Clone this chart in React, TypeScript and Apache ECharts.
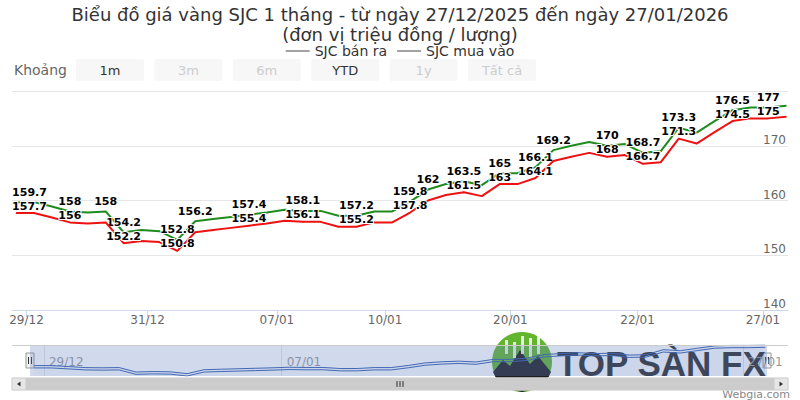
import React, { useEffect, useRef } from "react";
import * as echarts from "echarts";

const titleLine1 = "Biểu đồ giá vàng SJC 1 tháng - từ ngày 27/12/2025 đến ngày 27/01/2026";
const titleLine2 = "(đơn vị triệu đồng / lượng)";
const seriesNames = ["SJC bán ra", "SJC mua vào"];

// SJC bán ra (sell) and SJC mua vào (buy), one value per ordinal point
const sellValues = [
  159.7, 159.7, 158.9, 158, 157.8, 158, 154.2, 154.6, 154.4, 152.8,
  156.2, 156.6, 157.0, 157.4, 157.8, 158.3, 158.1, 158.1, 157.2, 157.2,
  158.0, 158.0, 159.8, 162, 163.0, 163.5, 162.8, 165, 165, 166.1,
  169.2, 170.0, 170.7, 170, 170.3, 168.7, 169.0, 173.3, 172.4, 174.5,
  176.5, 177, 177, 177.3,
];
const buyValues = [
  157.7, 157.7, 156.9, 156, 155.8, 156, 152.2, 152.6, 152.4, 150.8,
  154.2, 154.6, 155.0, 155.4, 155.8, 156.3, 156.1, 156.1, 155.2, 155.2,
  156.0, 156.0, 157.8, 160, 161.0, 161.5, 160.8, 163, 163, 164.1,
  167.2, 168.0, 168.7, 168, 168.3, 166.7, 167.0, 171.3, 170.4, 172.5,
  174.5, 175, 175, 175.3,
];
// points whose value label is visible
const sellLabelIdx = [0, 3, 5, 6, 9, 10, 13, 16, 19, 22, 23, 25, 27, 29, 30, 33, 35, 37, 40, 42];
const buyLabelIdx = [0, 3, 6, 9, 13, 16, 19, 22, 25, 27, 29, 33, 35, 37, 40, 42];

// x-axis ticks (ordinal position) and their labels
const tickIdx = [0.58, 7.34, 14.56, 20.6, 27.6, 34.7, 41.7];
const tickLabels = ["29/12", "31/12", "07/01", "10/01", "20/01", "22/01", "27/01"];
const navTickIdx = [0.58, 14.56, 41.7];
const navTickLabels = ["29/12", "07/01", "27/01"];

const yMin = 140;
const yMax = 180;
const yStep = 10;

const rangeLabel = "Khoảng";
const rangeButtons = ["1m", "3m", "6m", "YTD", "1y", "Tất cả"];
const rangeEnabled = [true, false, false, true, false, false];

const logoText = "TOP SÀN FX";
const creditText = "Webgia.com";

const FONT = "'DejaVu Sans', Verdana, sans-serif";
const LOGO_FONT = "'Liberation Sans', Arial, sans-serif";

function labelFor(list: number[], names: string[], v: number) {
  for (let i = 0; i < list.length; i++) {
    if (Math.abs(list[i] - v) < 1e-6) return names[i];
  }
  return "";
}

export default function App() {
  const ref = useRef<HTMLDivElement>(null);

  useEffect(() => {
    const chart = echarts.init(ref.current!, null, { renderer: "svg" });

    const labelStyle = (distance: number) => ({
      show: false,
      position: "top",
      distance,
      fontSize: 11,
      lineHeight: 11,
      fontWeight: "bold",
      color: "#000",
      textBorderColor: "#fff",
      textBorderWidth: 2,
      fontFamily: FONT,
      formatter: (p: any) => String(p.value[1]),
    });

    const mkData = (vals: number[], labelIdx: number[]) =>
      vals.map((v, i) => {
        const item: any = { value: [i, v] };
        if (labelIdx.includes(i)) {
          item.label = { show: true };
          if (i === 0) item.label = { show: true, align: "left", offset: [-4, 0] };
        }
        return item;
      });

    const buttonGraphics: any[] = [];
    rangeButtons.forEach((b, i) => {
      const x = 76 + i * 78.4;
      buttonGraphics.push({
        type: "rect",
        shape: { x, y: 59, width: 68, height: 22, r: 2 },
        style: { fill: "#f7f7f7" },
      });
      buttonGraphics.push({
        type: "text",
        x: x + 34,
        y: 70,
        style: {
          text: b,
          fill: rangeEnabled[i] ? "#333333" : "#cccccc",
          fontSize: 13,
          fontFamily: FONT,
          align: "center",
          verticalAlign: "middle",
        },
      });
    });

    const navTop = 345;
    const navH = 31;
    const selL = 30;
    const selR = 767;

    const handle = (cx: number) => ({
      type: "group",
      z: 12,
      children: [
        {
          type: "rect",
          shape: { x: cx - 4, y: navTop + 8, width: 8, height: 15 },
          style: { fill: "#f2f2f2", stroke: "#999999", lineWidth: 1 },
        },
        { type: "line", shape: { x1: cx - 1.5, y1: navTop + 12, x2: cx - 1.5, y2: navTop + 19 }, style: { stroke: "#333", lineWidth: 1 } },
        { type: "line", shape: { x1: cx + 1.5, y1: navTop + 12, x2: cx + 1.5, y2: navTop + 19 }, style: { stroke: "#333", lineWidth: 1 } },
      ],
    });

    const sbY = 378;
    const sbH = 12;

    const option: any = {
      animation: false,
      textStyle: { fontFamily: FONT },
      legend: {
        top: 39,
        left: "center",
        icon: "rect",
        itemWidth: 24,
        itemHeight: 1,
        itemGap: 10,
        textStyle: { fontSize: 14, color: "#333", fontFamily: FONT },
        data: [
          { name: seriesNames[0], itemStyle: { color: "#444" } },
          { name: seriesNames[1], itemStyle: { color: "#444" } },
        ],
        selectedMode: false,
      },
      grid: [
        { left: 12, right: 12, top: 91, bottom: 90 },
        { left: 12, right: 12, top: navTop, height: navH },
      ],
      xAxis: [
        {
          type: "value",
          gridIndex: 0,
          min: -0.23,
          max: 43.1,
          axisLine: { show: true, lineStyle: { color: "#ccd6eb" } },
          axisTick: { show: true, customValues: tickIdx, length: 7, lineStyle: { color: "#ccd6eb" } },
          axisLabel: {
            customValues: tickIdx,
            formatter: (v: number) => labelFor(tickIdx, tickLabels, v),
            color: "#666",
            fontSize: 12,
            margin: 4,
            fontFamily: FONT,
          },
          splitLine: { show: false },
        },
        {
          type: "value",
          gridIndex: 1,
          min: -1.3,
          max: 44.34,
          axisLine: { show: false },
          axisTick: { show: false, customValues: navTickIdx },
          axisLabel: {
            customValues: navTickIdx,
            formatter: (v: number) => labelFor(navTickIdx, navTickLabels, v),
            inside: true,
            align: "left",
            verticalAlign: "bottom",
            padding: [0, 0, 0, 5],
            margin: 8,
            color: "#999",
            fontSize: 12,
            fontFamily: FONT,
          },
          splitLine: { show: true, lineStyle: { color: "#e6e6e6" } },
        },
      ],
      yAxis: [
        {
          type: "value",
          gridIndex: 0,
          min: yMin,
          max: yMax,
          interval: yStep,
          position: "right",
          axisLine: { show: false },
          axisTick: { show: false },
          axisLabel: {
            inside: true,
            verticalAlign: "bottom",
            margin: 2,
            color: "#666",
            fontSize: 12,
            fontFamily: FONT,
            formatter: (v: number) => (v === yMax ? "" : String(v)),
          },
          splitLine: { show: true, lineStyle: { color: "#e6e6e6" } },
        },
        {
          type: "value",
          gridIndex: 1,
          min: "dataMin",
          max: "dataMax",
          show: false,
          splitLine: { show: false },
        },
      ],
      series: [
        {
          name: seriesNames[0],
          type: "line",
          xAxisIndex: 0,
          yAxisIndex: 0,
          data: mkData(sellValues, sellLabelIdx),
          color: "#1f8b1f",
          lineStyle: { width: 2, color: "#1f8b1f" },
          symbol: "circle",
          symbolSize: 1,
          showSymbol: true,
          showAllSymbol: true,
          label: labelStyle(4),
          z: 3,
        },
        {
          name: seriesNames[1],
          type: "line",
          xAxisIndex: 0,
          yAxisIndex: 0,
          data: mkData(buyValues, buyLabelIdx),
          color: "#ee1111",
          lineStyle: { width: 2, color: "#ee1111" },
          symbol: "circle",
          symbolSize: 1,
          showSymbol: true,
          showAllSymbol: true,
          label: labelStyle(1),
          z: 4,
        },
        {
          name: "nav-sell",
          type: "line",
          xAxisIndex: 1,
          yAxisIndex: 1,
          data: sellValues.map((v, i) => [i, v]),
          showSymbol: false,
          silent: true,
          lineStyle: { width: 1, color: "#335cad" },
          areaStyle: { color: "rgba(51,92,173,0.05)" },
        },
        {
          name: "nav-buy",
          type: "line",
          xAxisIndex: 1,
          yAxisIndex: 1,
          data: buyValues.map((v, i) => [i, v]),
          showSymbol: false,
          silent: true,
          lineStyle: { width: 1, color: "#335cad" },
        },
      ],
      graphic: [
        {
          type: "text",
          x: 400,
          y: 14,
          style: { text: titleLine1, fill: "#333333", fontSize: 18, fontFamily: FONT, align: "center", verticalAlign: "middle" },
        },
        {
          type: "text",
          x: 400,
          y: 34,
          style: { text: titleLine2, fill: "#333333", fontSize: 18, fontFamily: FONT, align: "center", verticalAlign: "middle" },
        },
        {
          type: "text",
          x: 14,
          y: 70,
          style: { text: rangeLabel, fill: "#666666", fontSize: 14, fontFamily: FONT, verticalAlign: "middle" },
        },
        ...buttonGraphics,
        // navigator outline + mask
        {
          type: "line",
          z: 11,
          shape: { x1: 12, y1: navTop + 0.5, x2: 788, y2: navTop + 0.5 },
          style: { stroke: "#cccccc", lineWidth: 1 },
        },
        {
          type: "rect",
          z: 10,
          shape: { x: selL, y: navTop, width: selR - selL, height: navH },
          style: { fill: "rgba(102,133,194,0.3)" },
        },
        handle(selL),
        handle(selR),
        // scrollbar
        {
          type: "rect",
          z: 10,
          shape: { x: 12, y: sbY, width: 776, height: sbH },
          style: { fill: "#f2f2f2", stroke: "#f2f2f2" },
        },
        {
          type: "rect",
          z: 10,
          shape: { x: 26, y: sbY, width: 748, height: sbH },
          style: { fill: "#cccccc", stroke: "#cccccc" },
        },
        {
          type: "rect",
          z: 10,
          shape: { x: 12, y: sbY, width: 14, height: sbH },
          style: { fill: "#e6e6e6", stroke: "#cccccc" },
        },
        {
          type: "rect",
          z: 10,
          shape: { x: 774, y: sbY, width: 14, height: sbH },
          style: { fill: "#e6e6e6", stroke: "#cccccc" },
        },
        {
          type: "polygon",
          z: 11,
          shape: { points: [[20.5, sbY + 3.5], [20.5, sbY + 8.5], [17, sbY + 6]] },
          style: { fill: "#333" },
        },
        {
          type: "polygon",
          z: 11,
          shape: { points: [[779.5, sbY + 3.5], [779.5, sbY + 8.5], [783, sbY + 6]] },
          style: { fill: "#333" },
        },
        ...[-3, 0, 3].map((d) => ({
          type: "line",
          z: 11,
          shape: { x1: 400 + d, y1: sbY + 3, x2: 400 + d, y2: sbY + 9 },
          style: { stroke: "#333", lineWidth: 1 },
        })),
        // watermark logo
        {
          type: "group",
          z: 20,
          children: [
            { type: "circle", shape: { cx: 522, cy: 362, r: 30 }, style: { fill: "#62b52f" } },
            {
              type: "polygon",
              shape: {
                points: [
                  [493, 372], [503, 360], [510, 366], [520, 350], [530, 364], [538, 356], [551, 372],
                  [546, 382], [535, 389], [522, 392], [509, 389], [498, 382],
                ],
              },
              style: { fill: "#1c1c1c" },
            },
            ...[505, 513, 521, 529, 537].map((bx, i) => ({
              type: "rect",
              shape: { x: bx, y: 340 + (i % 2) * 4 - i * 2, width: 3, height: 14 + i * 2 },
              style: { fill: "#ffffff", opacity: 0.85 },
            })),
            {
              type: "text",
              x: 557,
              y: 363,
              style: {
                text: logoText,
                fill: "#2b2b2b",
                fontSize: 35,
                fontWeight: "bold",
                fontFamily: LOGO_FONT,
                verticalAlign: "middle",
              },
            },
          ],
        },
        {
          type: "text",
          x: 790,
          y: 394,
          style: { text: creditText, fill: "#888888", fontSize: 11, fontFamily: FONT, align: "right", verticalAlign: "middle" },
        },
      ],
    };

    chart.setOption(option);
    return () => chart.dispose();
  }, []);

  return (
    <div
      ref={ref}
      style={{ position: "fixed", left: 0, top: 0, width: 800, height: 400, background: "#ffffff" }}
    />
  );
}
